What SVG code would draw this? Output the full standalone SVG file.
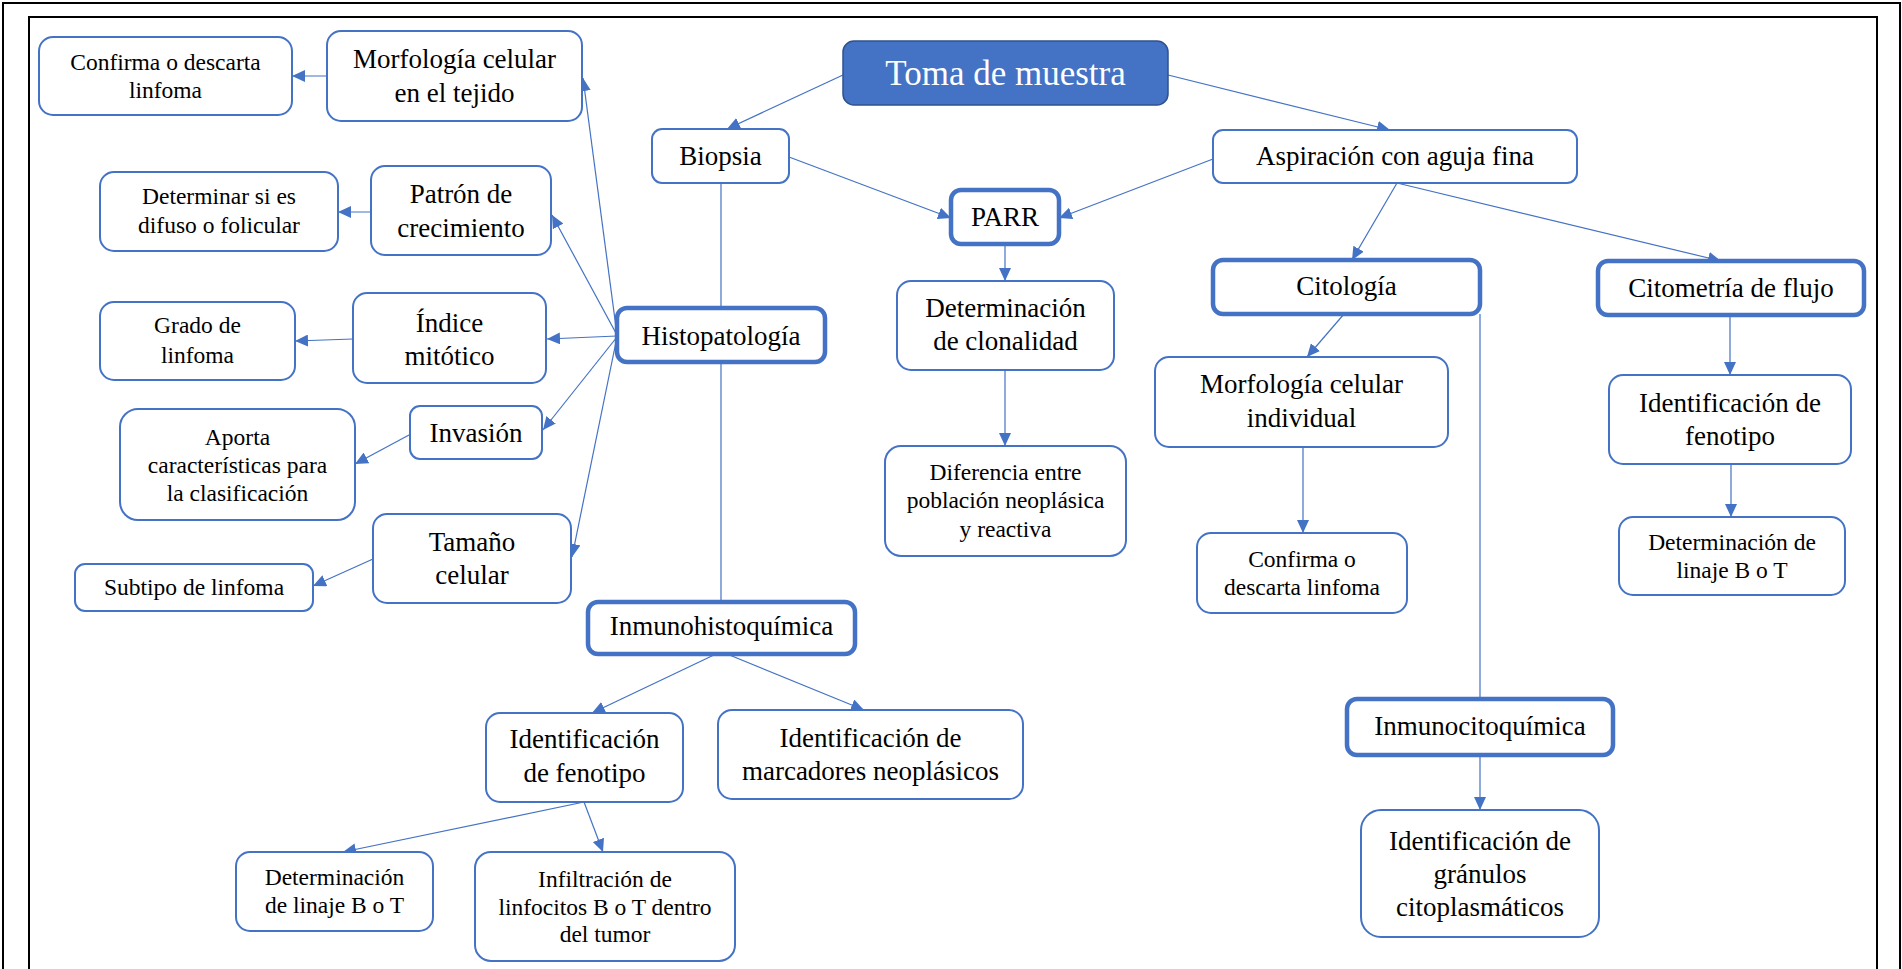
<svg xmlns="http://www.w3.org/2000/svg" width="1902" height="969" viewBox="0 0 1902 969">
<defs>
<style>
.n{fill:#fff;stroke:#4472C4;stroke-width:2}
.k{fill:#fff;stroke:#4472C4;stroke-width:4.5}
.t{font-family:"Liberation Serif","Times New Roman",serif;font-size:27px;fill:#000;text-anchor:middle}
.s{font-family:"Liberation Serif","Times New Roman",serif;font-size:23.5px;fill:#000;text-anchor:middle}
.c line{stroke:#4472C4;stroke-width:1.2;fill:none}
.fr{stroke:#000;stroke-width:2;fill:none}
</style>
<marker id="ah" markerWidth="14" markerHeight="12" refX="13" refY="6" orient="auto" markerUnits="userSpaceOnUse">
<path d="M0,0 L13,6 L0,12 Z" fill="#4472C4"/>
</marker>
</defs>
<rect width="1902" height="969" fill="#fff"/>
<g id="frame">
<path class="fr" d="M3,969 V3 H1900 V969"/>
<path class="fr" d="M29,969 V17 H1877 V969"/>
</g>
<g id="connectors" class="c">
<line x1="843" y1="75" x2="727" y2="129" marker-end="url(#ah)"/>
<line x1="1168" y1="75" x2="1390" y2="130" marker-end="url(#ah)"/>
<line x1="789" y1="157" x2="951" y2="218" marker-end="url(#ah)"/>
<line x1="1213" y1="159" x2="1059" y2="218" marker-end="url(#ah)"/>
<line x1="1005" y1="244" x2="1005" y2="281" marker-end="url(#ah)"/>
<line x1="1005" y1="370" x2="1005" y2="446" marker-end="url(#ah)"/>
<line x1="721" y1="183" x2="721" y2="308"/>
<line x1="721" y1="362" x2="721" y2="602"/>
<line x1="617" y1="335" x2="583" y2="78" marker-end="url(#ah)"/>
<line x1="617" y1="335" x2="552" y2="215" marker-end="url(#ah)"/>
<line x1="617" y1="336" x2="547" y2="339" marker-end="url(#ah)"/>
<line x1="617" y1="337" x2="543" y2="430" marker-end="url(#ah)"/>
<line x1="617" y1="337" x2="572" y2="557" marker-end="url(#ah)"/>
<line x1="327" y1="76" x2="292" y2="76" marker-end="url(#ah)"/>
<line x1="371" y1="212" x2="338" y2="212" marker-end="url(#ah)"/>
<line x1="353" y1="339" x2="295" y2="341" marker-end="url(#ah)"/>
<line x1="409" y1="435" x2="355" y2="464" marker-end="url(#ah)"/>
<line x1="373" y1="559" x2="313" y2="586" marker-end="url(#ah)"/>
<line x1="716" y1="654" x2="592" y2="713" marker-end="url(#ah)"/>
<line x1="727" y1="654" x2="864" y2="710" marker-end="url(#ah)"/>
<line x1="584" y1="802" x2="343" y2="852" marker-end="url(#ah)"/>
<line x1="584" y1="802" x2="603" y2="852" marker-end="url(#ah)"/>
<line x1="1397" y1="183" x2="1352" y2="260" marker-end="url(#ah)"/>
<line x1="1397" y1="183" x2="1721" y2="261" marker-end="url(#ah)"/>
<line x1="1344" y1="314" x2="1307" y2="357" marker-end="url(#ah)"/>
<line x1="1303" y1="447" x2="1303" y2="533" marker-end="url(#ah)"/>
<line x1="1480" y1="314" x2="1480" y2="699"/>
<line x1="1480" y1="755" x2="1480" y2="810" marker-end="url(#ah)"/>
<line x1="1730" y1="315" x2="1730" y2="375" marker-end="url(#ah)"/>
<line x1="1731" y1="464" x2="1731" y2="517" marker-end="url(#ah)"/>
</g>
<g id="n-toma">
<rect x="843" y="41" width="325" height="64" rx="11" fill="#4472C4" stroke="#2F528F" stroke-width="1.5"/>
<text x="1005.5" y="85" class="t" style="font-size:35px;fill:#fff">Toma de muestra</text>
</g>
<g id="n-biopsia">
<rect class="n" x="652" y="129" width="137" height="54" rx="10"/>
<text class="t" x="720.5" y="165">Biopsia</text>
</g>
<g id="n-aspiracion">
<rect class="n" x="1213" y="130" width="364" height="53" rx="10"/>
<text class="t" x="1395" y="165">Aspiración con aguja fina</text>
</g>
<g id="n-parr">
<rect class="k" x="951" y="190" width="108" height="54" rx="10"/>
<text class="t" x="1005" y="226">PARR</text>
</g>
<g id="n-clonalidad">
<rect class="n" x="897" y="281" width="217" height="89" rx="14"/>
<text class="t" x="1005.5" y="317">Determinación</text>
<text class="t" x="1005.5" y="350">de clonalidad</text>
</g>
<g id="n-diferencia">
<rect class="n" x="885" y="446" width="241" height="110" rx="16"/>
<text class="s" x="1005.5" y="480">Diferencia entre</text>
<text class="s" x="1005.5" y="508">población neoplásica</text>
<text class="s" x="1005.5" y="537">y reactiva</text>
</g>
<g id="n-histopatologia">
<rect class="k" x="617" y="308" width="208" height="54" rx="10"/>
<text class="t" x="721" y="345">Histopatología</text>
</g>
<g id="n-inmunohistoquimica">
<rect class="k" x="588" y="602" width="267" height="52" rx="10"/>
<text class="t" x="721.5" y="635">Inmunohistoquímica</text>
</g>
<g id="n-fenotipo-ihq">
<rect class="n" x="486" y="713" width="197" height="89" rx="14"/>
<text class="t" x="584.5" y="748">Identificación</text>
<text class="t" x="584.5" y="782">de fenotipo</text>
</g>
<g id="n-marcadores">
<rect class="n" x="718" y="710" width="305" height="89" rx="14"/>
<text class="t" x="870.5" y="747">Identificación de</text>
<text class="t" x="870.5" y="780">marcadores neoplásicos</text>
</g>
<g id="n-linaje-ihq">
<rect class="n" x="236" y="852" width="197" height="79" rx="14"/>
<text class="s" x="334.5" y="885">Determinación</text>
<text class="s" x="334.5" y="913">de linaje B o T</text>
</g>
<g id="n-infiltracion">
<rect class="n" x="475" y="852" width="260" height="109" rx="16"/>
<text class="s" x="605" y="887">Infiltración de</text>
<text class="s" x="605" y="915">linfocitos B o T dentro</text>
<text class="s" x="605" y="942">del tumor</text>
</g>
<g id="n-citologia">
<rect class="k" x="1213" y="260" width="267" height="54" rx="10"/>
<text class="t" x="1346.5" y="295">Citología</text>
</g>
<g id="n-citometria">
<rect class="k" x="1598" y="261" width="266" height="54" rx="10"/>
<text class="t" x="1731" y="297">Citometría de flujo</text>
</g>
<g id="n-morfologia-individual">
<rect class="n" x="1155" y="357" width="293" height="90" rx="14"/>
<text class="t" x="1301.5" y="393">Morfología celular</text>
<text class="t" x="1301.5" y="427">individual</text>
</g>
<g id="n-confirma-citologia">
<rect class="n" x="1197" y="533" width="210" height="80" rx="14"/>
<text class="s" x="1302" y="567">Confirma o</text>
<text class="s" x="1302" y="595">descarta linfoma</text>
</g>
<g id="n-inmunocitoquimica">
<rect class="k" x="1347" y="699" width="266" height="56" rx="10"/>
<text class="t" x="1480" y="735">Inmunocitoquímica</text>
</g>
<g id="n-granulos">
<rect class="n" x="1361" y="810" width="238" height="127" rx="20"/>
<text class="t" x="1480" y="850">Identificación de</text>
<text class="t" x="1480" y="883">gránulos</text>
<text class="t" x="1480" y="916">citoplasmáticos</text>
</g>
<g id="n-fenotipo-citometria">
<rect class="n" x="1609" y="375" width="242" height="89" rx="14"/>
<text class="t" x="1730" y="412">Identificación de</text>
<text class="t" x="1730" y="445">fenotipo</text>
</g>
<g id="n-linaje-citometria">
<rect class="n" x="1619" y="517" width="226" height="78" rx="14"/>
<text class="s" x="1732" y="550">Determinación de</text>
<text class="s" x="1732" y="578">linaje B o T</text>
</g>
<g id="n-morfologia-tejido">
<rect class="n" x="327" y="31" width="255" height="90" rx="14"/>
<text class="t" x="454.5" y="68">Morfología celular</text>
<text class="t" x="454.5" y="102">en el tejido</text>
</g>
<g id="n-confirma-tejido">
<rect class="n" x="39" y="37" width="253" height="78" rx="14"/>
<text class="s" x="165.5" y="70">Confirma o descarta</text>
<text class="s" x="165.5" y="98">linfoma</text>
</g>
<g id="n-patron">
<rect class="n" x="371" y="166" width="180" height="89" rx="14"/>
<text class="t" x="461" y="203">Patrón de</text>
<text class="t" x="461" y="237">crecimiento</text>
</g>
<g id="n-determinar">
<rect class="n" x="100" y="172" width="238" height="79" rx="14"/>
<text class="s" x="219" y="204">Determinar si es</text>
<text class="s" x="219" y="233">difuso o folicular</text>
</g>
<g id="n-indice">
<rect class="n" x="353" y="293" width="193" height="90" rx="14"/>
<text class="t" x="449.5" y="332">Índice</text>
<text class="t" x="449.5" y="365">mitótico</text>
</g>
<g id="n-grado">
<rect class="n" x="100" y="302" width="195" height="78" rx="14"/>
<text class="s" x="197.5" y="333">Grado de</text>
<text class="s" x="197.5" y="363">linfoma</text>
</g>
<g id="n-invasion">
<rect class="n" x="410" y="406" width="132" height="53" rx="10"/>
<text class="t" x="476" y="442">Invasión</text>
</g>
<g id="n-aporta">
<rect class="n" x="120" y="409" width="235" height="111" rx="18"/>
<text class="s" x="237.5" y="445">Aporta</text>
<text class="s" x="237.5" y="473">características para</text>
<text class="s" x="237.5" y="501">la clasificación</text>
</g>
<g id="n-tamano">
<rect class="n" x="373" y="514" width="198" height="89" rx="14"/>
<text class="t" x="472" y="551">Tamaño</text>
<text class="t" x="472" y="584">celular</text>
</g>
<g id="n-subtipo">
<rect class="n" x="75" y="564" width="238" height="47" rx="10"/>
<text class="s" x="194" y="595">Subtipo de linfoma</text>
</g>
</svg>
